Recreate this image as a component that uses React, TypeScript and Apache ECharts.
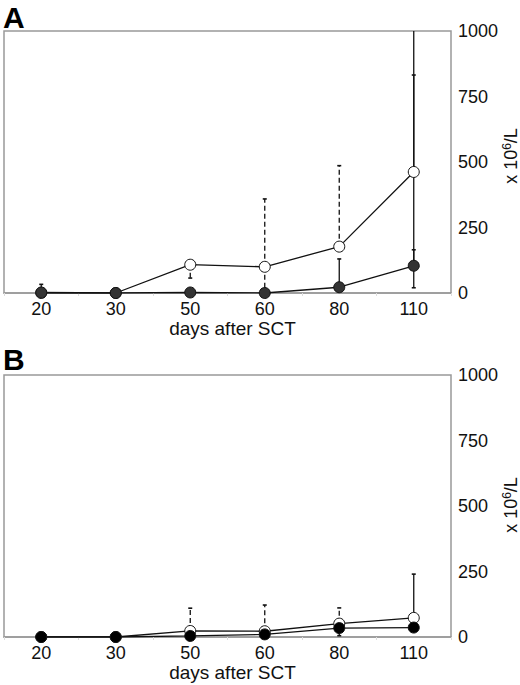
import { useEffect, useRef } from 'react'
import * as echarts from 'echarts'

// days after SCT
const days = ['20', '30', '50', '60', '80', '110']
const yTicks = [0, 250, 500, 750, 1000]

// panel A
const openA = [0, 0, 108, 100, 177, 462]
const filledA = [2, 0, 2, 0, 22, 104]
const openHighA = [null, null, null, 359, 486, 832]
const openLowA = [null, null, 57, 0, null, 104]
const openRangeA = [null, null, null, null, null, 1050]
const filledHighA = [33, null, null, null, 130, 165]
const filledLowA = [null, null, null, null, null, 20]

// panel B
const openB = [0, 0, 23, 22, 51, 73]
const filledB = [0, 0, 4, 10, 34, 36]
const openHighB = [null, null, 110, 122, 111, 240]
const filledLowB = [null, null, null, null, 5, null]

const solidDay = '110'
const FONT = '"Liberation Sans", Arial, Helvetica, sans-serif'

type Bound = Array<number | null>

// error bar items: [index, mean, bound, cap, dashed]
function errorItems(mean: number[], bound: Bound, dashed: boolean, cap = true) {
  const items: number[][] = []
  bound.forEach((b, i) => {
    if (b === null) return
    const isDashed = dashed && days[i] !== solidDay ? 1 : 0
    items.push([i, mean[i], b, cap ? 1 : 0, isDashed])
  })
  return items
}

function errorSeries(gridIdx: number, data: number[][]): echarts.CustomSeriesOption {
  return {
    type: 'custom',
    xAxisIndex: gridIdx,
    yAxisIndex: gridIdx,
    clip: true,
    z: 1,
    encode: { x: 0, y: [1, 2] },
    data,
    renderItem: (_params: any, api: any) => {
      const x = api.value(0)
      const p1 = api.coord([x, api.value(1)])
      const p2 = api.coord([x, api.value(2)])
      const dashed = api.value(4) === 1
      const children: any[] = [
        {
          type: 'line',
          shape: { x1: p1[0], y1: p1[1], x2: p2[0], y2: p2[1] },
          style: { stroke: '#111', lineWidth: 1.3, lineDash: dashed ? [5, 3] : null }
        }
      ]
      if (api.value(3) === 1) {
        children.push({
          type: 'line',
          shape: { x1: p2[0] - 2, y1: p2[1], x2: p2[0] + 2, y2: p2[1] },
          style: { stroke: '#111', lineWidth: 1.6 }
        })
      }
      return { type: 'group', children }
    }
  }
}

function lineSeries(gridIdx: number, data: number[], fill: string): echarts.LineSeriesOption {
  return {
    type: 'line',
    xAxisIndex: gridIdx,
    yAxisIndex: gridIdx,
    data,
    z: 2,
    symbol: 'circle',
    symbolSize: 11,
    showAllSymbol: true,
    lineStyle: { color: '#111', width: 1.3 },
    itemStyle: { color: fill, borderColor: '#111', borderWidth: 1 },
    silent: true
  }
}

// rotated unit label next to the right axis
function unitLabel(x: number, y: number) {
  return {
    type: 'text',
    x,
    y,
    rotation: Math.PI / 2,
    style: {
      text: '{a|x 10}{b|6}{a|/L}',
      align: 'center',
      verticalAlign: 'middle',
      rich: {
        a: { fontFamily: FONT, fontSize: 18, fill: '#111' },
        b: { fontFamily: FONT, fontSize: 12, fill: '#111', padding: [0, 0, 8, 0] }
      }
    }
  }
}

export default function App() {
  const ref = useRef<HTMLDivElement>(null)

  useEffect(() => {
    document.body.style.margin = '0'
    if (!ref.current) return
    const chart = echarts.init(ref.current, null, { renderer: 'svg' })

    const grids = [
      { left: 4, top: 31, width: 447, height: 262 },
      { left: 4, top: 375, width: 447, height: 262 }
    ]

    const xAxes = grids.map((_, i) => ({
      type: 'category' as const,
      gridIndex: i,
      data: days,
      boundaryGap: true,
      name: 'days after SCT',
      nameLocation: 'middle' as const,
      nameGap: 26,
      nameTextStyle: { fontFamily: FONT, fontSize: 19, color: '#111', padding: [0, 0, 0, 10] },
      axisLine: { show: true, lineStyle: { color: '#999', width: 1.5 } },
      axisTick: { show: true, length: 3, lineStyle: { color: '#ddd' } },
      axisLabel: { fontFamily: FONT, fontSize: 18, color: '#111', margin: 7 },
      splitLine: { show: false }
    }))

    const yAxes = grids.map((_, i) => ({
      type: 'value' as const,
      gridIndex: i,
      position: 'right' as const,
      min: yTicks[0],
      max: yTicks[yTicks.length - 1],
      interval: yTicks[1] - yTicks[0],
      axisLine: { show: false },
      axisTick: { show: false },
      axisLabel: {
        fontFamily: FONT,
        fontSize: 18,
        color: '#111',
        margin: 7,
        formatter: (v: number) => String(v)
      },
      splitLine: { show: false }
    }))

    chart.setOption({
      animation: false,
      backgroundColor: '#fff',
      grid: grids.map((g) => ({
        ...g,
        show: true,
        borderColor: '#999',
        borderWidth: 1.5,
        backgroundColor: 'transparent',
        outerBoundsMode: 'none'
      })),
      xAxis: xAxes,
      yAxis: yAxes,
      graphic: [
        { type: 'text', left: 3, top: 2, style: { text: 'A', font: `bold 30px ${FONT}`, fill: '#000' } },
        { type: 'text', left: 3, top: 344, style: { text: 'B', font: `bold 30px ${FONT}`, fill: '#000' } },
        unitLabel(511, 156),
        unitLabel(511, 505)
      ],
      series: [
        errorSeries(0, [
          ...errorItems(openA, openHighA, true),
          ...errorItems(openA, openLowA, true),
          ...errorItems(openA, openRangeA, false, false),
          ...errorItems(filledA, filledHighA, false),
          ...errorItems(filledA, filledLowA, false)
        ]),
        lineSeries(0, openA, '#fff'),
        lineSeries(0, filledA, '#333'),
        errorSeries(1, [
          ...errorItems(openB, openHighB, true),
          ...errorItems(filledB, filledLowB, false)
        ]),
        lineSeries(1, openB, '#fff'),
        lineSeries(1, filledB, '#000')
      ]
    })

    return () => chart.dispose()
  }, [])

  return <div ref={ref} style={{ width: 520, height: 685 }} />
}
